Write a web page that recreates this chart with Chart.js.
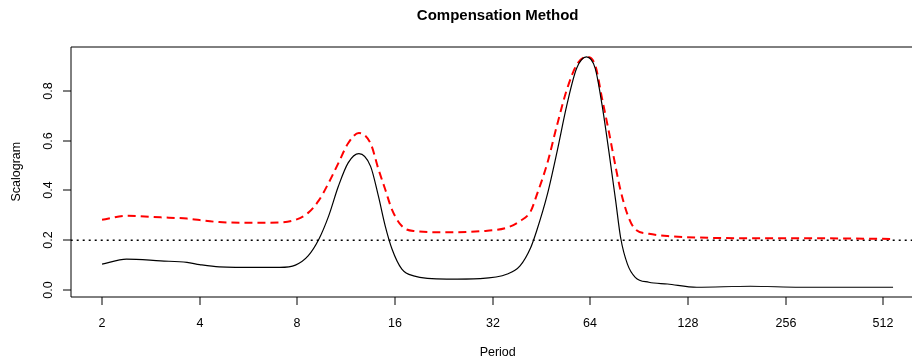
<!DOCTYPE html>
<html lang="en">
<head>
  <meta charset="UTF-8" />
  <title>Compensation Method</title>
  <script src="https://cdn.jsdelivr.net/npm/chart.js"></script>
  <style>
    html, body {
      margin: 0;
      padding: 0;
      background: #ffffff;
    }
    #chart {
      display: block;
    }
  </style>
</head>
<body>

<canvas id="chart" width="912" height="363"></canvas>

<script>
  // x values are log2(period); ticks are labelled with the period itself
  const log2Period = [1.00, 1.25, 1.60, 1.87, 2.00, 2.20, 2.60, 2.82, 2.98, 3.11,
    3.22, 3.32, 3.42, 3.52, 3.63, 3.75, 3.83, 3.90, 3.97, 4.07,
    4.19, 4.53, 4.87, 5.15, 5.28, 5.39, 5.45, 5.56, 5.66, 5.76,
    5.86, 5.96, 6.05, 6.12, 6.19, 6.26, 6.31, 6.38, 6.46, 6.60,
    6.79, 7.09, 7.64, 8.15, 8.66, 9.10];

  const scalogram = [0.104, 0.124, 0.117, 0.111, 0.102, 0.093, 0.091, 0.091, 0.100, 0.137,
    0.204, 0.297, 0.417, 0.511, 0.548, 0.497, 0.377, 0.257, 0.164, 0.084,
    0.057, 0.044, 0.046, 0.064, 0.097, 0.171, 0.237, 0.384, 0.557, 0.744,
    0.891, 0.937, 0.891, 0.744, 0.557, 0.357, 0.211, 0.104, 0.051, 0.031,
    0.024, 0.011, 0.015, 0.011, 0.011, 0.011];

  const compensated = [0.282, 0.298, 0.292, 0.287, 0.281, 0.273, 0.270, 0.271, 0.282, 0.310,
    0.360, 0.430, 0.510, 0.590, 0.631, 0.589, 0.486, 0.404, 0.322, 0.257,
    0.237, 0.232, 0.236, 0.251, 0.277, 0.317, 0.380, 0.510, 0.664, 0.806,
    0.905, 0.937, 0.904, 0.770, 0.636, 0.493, 0.400, 0.304, 0.244, 0.226,
    0.217, 0.211, 0.208, 0.208, 0.207, 0.205];

  const thresholdLevel = 0.2;

  const xTickPeriods = [2, 4, 8, 16, 32, 64, 128, 256, 512];
  const yTickValues = [0, 0.2, 0.4, 0.6, 0.8];

  const X_MIN = 0.679;
  const X_MAX = 9.294;
  const Y_MIN = -0.027;
  const Y_MAX = 0.978;

  const FONT = '"Liberation Sans", Arial, Helvetica, sans-serif';

  function toPoints(xs, ys) {
    return xs.map((x, i) => ({ x: x, y: ys[i] }));
  }

  // box, tick marks and all texts, R base-graphics style
  const rAxes = {
    id: 'rAxes',
    afterDraw(chart) {
      const ctx = chart.ctx;
      const area = chart.chartArea;
      const xs = chart.scales.x;
      const ys = chart.scales.y;
      const left = Math.round(area.left);
      const top = Math.round(area.top);
      const bottom = Math.round(area.bottom);

      ctx.save();
      ctx.strokeStyle = '#000';
      ctx.lineWidth = 1;

      // plot box (right side lies beyond the canvas)
      ctx.beginPath();
      ctx.moveTo(930, top);
      ctx.lineTo(left, top);
      ctx.lineTo(left, bottom);
      ctx.lineTo(930, bottom);
      ctx.stroke();

      // x ticks
      ctx.fillStyle = '#000';
      ctx.font = '12.5px ' + FONT;
      ctx.textAlign = 'center';
      ctx.textBaseline = 'alphabetic';
      xTickPeriods.forEach(p => {
        const px = Math.round(xs.getPixelForValue(Math.log2(p)));
        ctx.beginPath();
        ctx.moveTo(px, bottom);
        ctx.lineTo(px, bottom + 8);
        ctx.stroke();
        ctx.fillText(String(p), px, 327);
      });

      // y ticks, labels rotated
      yTickValues.forEach(v => {
        const py = Math.round(ys.getPixelForValue(v));
        ctx.beginPath();
        ctx.moveTo(left, py);
        ctx.lineTo(left - 8, py);
        ctx.stroke();
        ctx.save();
        ctx.translate(52, py);
        ctx.rotate(-Math.PI / 2);
        ctx.fillText(v.toFixed(1), 0, 0);
        ctx.restore();
      });

      // axis titles
      const plotCenterX = (area.left + 924.7) / 2;
      ctx.fillText('Period', plotCenterX, 356);
      ctx.save();
      ctx.translate(20, (area.top + area.bottom) / 2);
      ctx.rotate(-Math.PI / 2);
      ctx.fillText('Scalogram', 0, 0);
      ctx.restore();

      // main title
      ctx.font = 'bold 15px ' + FONT;
      ctx.fillText('Compensation Method', plotCenterX, 20);

      ctx.restore();
    }
  };

  const ctx = document.getElementById('chart').getContext('2d');
  const chart = new Chart(ctx, {
    type: 'line',
    data: {
      datasets: [
        {
          label: 'Scalogram',
          data: toPoints(log2Period, scalogram),
          borderColor: '#000000',
          borderWidth: 1.2,
          pointRadius: 0,
          cubicInterpolationMode: 'monotone',
          fill: false
        },
        {
          label: 'Compensated',
          data: toPoints(log2Period, compensated),
          borderColor: '#ff0000',
          borderWidth: 2,
          borderDash: [8, 5],
          pointRadius: 0,
          cubicInterpolationMode: 'monotone',
          fill: false
        },
        {
          label: 'Threshold',
          data: [{ x: X_MIN, y: thresholdLevel }, { x: X_MAX, y: thresholdLevel }],
          borderColor: '#000000',
          borderWidth: 1.5,
          borderDash: [2, 4],
          pointRadius: 0,
          fill: false
        }
      ]
    },
    options: {
      responsive: false,
      animation: false,
      devicePixelRatio: 1,
      layout: {
        padding: { left: 70.7, top: 46.7, right: 0, bottom: 66.3 }
      },
      scales: {
        x: { type: 'linear', min: X_MIN, max: X_MAX, display: false },
        y: { type: 'linear', min: Y_MIN, max: Y_MAX, display: false }
      },
      plugins: {
        legend: { display: false },
        title: { display: false },
        tooltip: { enabled: false }
      }
    },
    plugins: [rAxes]
  });
</script>

</body>
</html>
